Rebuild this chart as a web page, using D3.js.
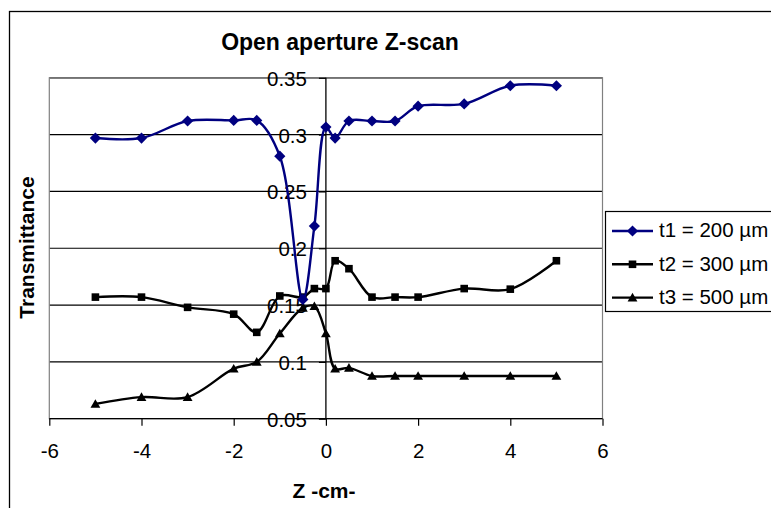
<!DOCTYPE html>
<html>
<head>
<meta charset="utf-8">
<script src="https://cdn.jsdelivr.net/npm/d3@7"></script>
<style>
  body { margin: 0; background: #fff; }
  svg { display: block; font-family: "Liberation Sans", Arial, sans-serif; }
</style>
</head>
<body>
<div id="chart"></div>
<script>
// chart data
const zT1 = [-5, -4, -3, -2, -1.5, -1, -0.5, -0.25, 0, 0.2, 0.5, 1, 1.5, 2, 3, 4, 5];
const t1 = [0.297, 0.297, 0.312, 0.3125, 0.3125, 0.281, 0.155, 0.2195, 0.3066, 0.297, 0.312, 0.312, 0.312, 0.325, 0.327, 0.343, 0.343];

const zT2 = [-5, -4, -3, -2, -1.5, -1, -0.5, -0.25, 0, 0.2, 0.5, 1, 1.5, 2, 3, 4, 5];
const t2 = [0.157, 0.157, 0.148, 0.142, 0.126, 0.158, 0.157, 0.1645, 0.1645, 0.189, 0.182, 0.157, 0.157, 0.157, 0.1645, 0.164, 0.189];

const zT3 = [-5, -4, -3, -2, -1.5, -1, -0.5, -0.25, 0, 0.2, 0.5, 1, 1.5, 2, 3, 4, 5];
const t3 = [0.063, 0.069, 0.069, 0.094, 0.100, 0.125, 0.1475, 0.149, 0.125, 0.094, 0.0947, 0.0876, 0.0876, 0.0876, 0.0876, 0.0876, 0.0876];

const seriesNames = ['t1 = 200 µm', 't2 = 300 µm', 't3 = 500 µm'];
const xTicks = [-6, -4, -2, 0, 2, 4, 6];
const yTicks = [0.05, 0.1, 0.15, 0.2, 0.25, 0.3, 0.35];
const yTickLabels = ['0.05', '0.1', '0.15', '0.2', '0.25', '0.3', '0.35'];

const width = 771, height = 508;
const plot = { left: 49.3, right: 602.5, top: 77.8, bottom: 418.7 };

const svg = d3.select('#chart').append('svg')
    .attr('width', width)
    .attr('height', height);

// chart area border (only left/top visible in the crop)
svg.append('rect')
    .attr('x', 9.5).attr('y', 11.5)
    .attr('width', 900).attr('height', 700)
    .attr('fill', '#fff')
    .attr('stroke', '#000')
    .attr('stroke-width', 1.3);

const x = d3.scaleLinear().domain([-6, 6]).range([plot.left, plot.right]);
const y = d3.scaleLinear().domain([0.05, 0.35]).range([plot.bottom, plot.top]);

// gridlines
svg.append('g')
    .selectAll('line')
    .data(yTicks.slice(1))
    .join('line')
    .attr('x1', plot.left).attr('x2', plot.right)
    .attr('y1', d => y(d)).attr('y2', d => y(d))
    .attr('stroke', '#000')
    .attr('stroke-width', 1.2);

// plot area border
svg.append('rect')
    .attr('x', plot.left).attr('y', plot.top)
    .attr('width', plot.right - plot.left)
    .attr('height', plot.bottom - plot.top)
    .attr('fill', 'none')
    .attr('stroke', '#808080')
    .attr('stroke-width', 1.2);

// x axis at y = 0.05
const xAxis = svg.append('g')
    .attr('transform', `translate(0,${plot.bottom})`)
    .call(d3.axisBottom(x).tickValues(xTicks).tickSize(7).tickPadding(18).tickFormat(d3.format('d')));
xAxis.select('.domain').attr('stroke', '#000').attr('stroke-width', 1.3).attr('d', `M${plot.left},0H${plot.right}`);
xAxis.selectAll('.tick line').attr('stroke', '#000').attr('stroke-width', 1.2);
xAxis.selectAll('.tick text')
    .attr('font-size', 20.5)
    .attr('font-family', '"Liberation Sans", Arial, sans-serif')
    .attr('fill', '#000')
    .text(d => d < 0 ? '-' + Math.abs(d) : d);

// y axis crossing at z = 0
const yAxis = svg.append('g')
    .attr('transform', `translate(${x(0)},0)`)
    .call(d3.axisLeft(y).tickValues(yTicks).tickSize(7).tickPadding(12)
        .tickFormat((d, i) => yTickLabels[i]));
yAxis.select('.domain').attr('stroke', '#000').attr('stroke-width', 1.3).attr('d', `M0,${plot.top}V${plot.bottom}`);
yAxis.selectAll('.tick line').attr('stroke', '#000').attr('stroke-width', 1.2);
yAxis.selectAll('.tick text')
    .attr('font-size', 20.5)
    .attr('font-family', '"Liberation Sans", Arial, sans-serif')
    .attr('fill', '#000')
    .attr('dy', '0.36em');

// markers
function markerPath(type) {
    if (type === 'diamond') return 'M0,-5.6L5.6,0L0,5.6L-5.6,0Z';
    if (type === 'square') return 'M-3.8,-3.8H3.8V3.8H-3.8Z';
    return 'M0,-4.8L4.9,3.8H-4.9Z';
}

const series = [
    { name: seriesNames[0], xs: zT1, ys: t1, color: '#000080', marker: 'diamond' },
    { name: seriesNames[1], xs: zT2, ys: t2, color: '#000000', marker: 'square' },
    { name: seriesNames[2], xs: zT3, ys: t3, color: '#000000', marker: 'triangle' }
];

const line = d3.line()
    .x(d => x(d[0]))
    .y(d => y(d[1]))
    .curve(d3.curveCatmullRom.alpha(0.5));

// draw black series first, blue on top
[series[2], series[1], series[0]].forEach(s => {
    const pts = s.xs.map((v, i) => [v, s.ys[i]]);
    const g = svg.append('g');
    g.append('path')
        .datum(pts)
        .attr('d', line)
        .attr('fill', 'none')
        .attr('stroke', s.color)
        .attr('stroke-width', 2.4);
    g.selectAll('path.m')
        .data(pts)
        .join('path')
        .attr('class', 'm')
        .attr('d', markerPath(s.marker))
        .attr('transform', d => `translate(${x(d[0])},${y(d[1])})`)
        .attr('fill', s.color);
});

// titles
svg.append('text')
    .attr('x', 340).attr('y', 50)
    .attr('text-anchor', 'middle')
    .attr('font-size', 23)
    .attr('font-weight', 'bold')
    .text('Open aperture Z-scan');

svg.append('text')
    .attr('x', 324).attr('y', 498)
    .attr('text-anchor', 'middle')
    .attr('font-size', 21)
    .attr('font-weight', 'bold')
    .text('Z -cm-');

svg.append('text')
    .attr('transform', 'translate(34,247.5) rotate(-90)')
    .attr('text-anchor', 'middle')
    .attr('font-size', 21)
    .attr('font-weight', 'bold')
    .text('Transmittance');

// legend
const legend = svg.append('g').attr('transform', 'translate(605,211)');
legend.append('rect')
    .attr('x', 0.5).attr('y', 0.5)
    .attr('width', 250).attr('height', 100)
    .attr('fill', '#fff')
    .attr('stroke', '#000')
    .attr('stroke-width', 1.2);

series.forEach((s, i) => {
    const cy = 20 + i * 33.3;
    legend.append('line')
        .attr('x1', 7).attr('x2', 48)
        .attr('y1', cy).attr('y2', cy)
        .attr('stroke', s.color)
        .attr('stroke-width', 2.4);
    legend.append('path')
        .attr('d', markerPath(s.marker))
        .attr('transform', `translate(27.5,${cy})`)
        .attr('fill', s.color);
    legend.append('text')
        .attr('x', 54).attr('y', cy + 6.3)
        .attr('font-size', 20.5)
        .text(s.name);
});
</script>
</body>
</html>
